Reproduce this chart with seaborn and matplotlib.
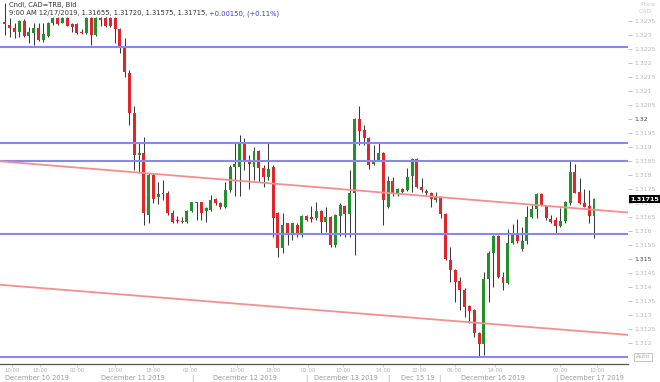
import numpy as np
import matplotlib
matplotlib.use("Agg")
import matplotlib.pyplot as plt
import seaborn as sns
from matplotlib.transforms import blended_transform_factory

# ---------------- data (CAD=TRB hourly candles) ----------------
opens = [
    1.32349, 1.32337, 1.32325, 1.32313, 1.32352, 1.32298, 1.32307, 1.32327, 1.32283, 1.32298,
    1.32343, 1.32361, 1.32345, 1.32361, 1.32340, 1.32340, 1.32313, 1.32307, 1.32361, 1.32301,
    1.32361, 1.32361, 1.32361, 1.32361, 1.32321, 1.32259, 1.32166, 1.32021, 1.31873, 1.31881,
    1.31658, 1.31801, 1.31722, 1.31733, 1.31738, 1.31667, 1.31637, 1.31636, 1.31634, 1.31674,
    1.31700, 1.31704, 1.31674, 1.31676, 1.31714, 1.31702, 1.31686, 1.31748, 1.31831, 1.31831,
    1.31920, 1.31852, 1.31831, 1.31888, 1.31825, 1.31795, 1.31831, 1.31664, 1.31539, 1.31629,
    1.31587, 1.31623, 1.31590, 1.31655, 1.31648, 1.31646, 1.31673, 1.31634, 1.31652, 1.31551,
    1.31655, 1.31690, 1.31662, 1.31736, 1.32000, 1.31962, 1.31932, 1.31840, 1.31855, 1.31881,
    1.31686, 1.31781, 1.31736, 1.31751, 1.31748, 1.31798, 1.31858, 1.31759, 1.31744, 1.31738,
    1.31712, 1.31724, 1.31662, 1.31498, 1.31462, 1.31422, 1.31390, 1.31333, 1.31319, 1.31236,
    1.31198, 1.31429, 1.31521, 1.31583, 1.31438, 1.31414, 1.31557, 1.31587, 1.31536, 1.31564,
    1.31652, 1.31679, 1.31733, 1.31690, 1.31644, 1.31640, 1.31619, 1.31638, 1.31700, 1.31813,
    1.31741, 1.31700, 1.31690, 1.31655]

highs = [
    1.32415, 1.32361, 1.32344, 1.32355, 1.32357, 1.32331, 1.32343, 1.32343, 1.32343, 1.32349,
    1.32367, 1.32364, 1.32364, 1.32364, 1.32343, 1.32343, 1.32321, 1.32364, 1.32364, 1.32364,
    1.32364, 1.32364, 1.32364, 1.32364, 1.32325, 1.32289, 1.32176, 1.32048, 1.31914, 1.31938,
    1.31807, 1.31805, 1.31777, 1.31783, 1.31745, 1.31676, 1.31655, 1.31652, 1.31676, 1.31706,
    1.31706, 1.31706, 1.31688, 1.31730, 1.31718, 1.31706, 1.31777, 1.31837, 1.31920, 1.31944,
    1.31932, 1.31873, 1.31902, 1.31890, 1.31837, 1.31920, 1.31837, 1.31670, 1.31664, 1.31631,
    1.31631, 1.31631, 1.31658, 1.31658, 1.31690, 1.31706, 1.31676, 1.31688, 1.31655, 1.31662,
    1.31700, 1.31694, 1.31819, 1.32004, 1.32048, 1.31980, 1.31938, 1.31908, 1.31920, 1.31884,
    1.31798, 1.31795, 1.31754, 1.31754, 1.31825, 1.31861, 1.31861, 1.31790, 1.31751, 1.31741,
    1.31741, 1.31726, 1.31664, 1.31544, 1.31464, 1.31438, 1.31397, 1.31337, 1.31322, 1.31240,
    1.31456, 1.31530, 1.31587, 1.31587, 1.31456, 1.31607, 1.31626, 1.31643, 1.31617, 1.31690,
    1.31694, 1.31738, 1.31736, 1.31694, 1.31658, 1.31652, 1.31682, 1.31709, 1.31855, 1.31840,
    1.31789, 1.31750, 1.31748, 1.31720]

lows = [
    1.32301, 1.32295, 1.32290, 1.32295, 1.32293, 1.32271, 1.32265, 1.32281, 1.32277, 1.32295,
    1.32337, 1.32337, 1.32343, 1.32333, 1.32313, 1.32305, 1.32304, 1.32305, 1.32265, 1.32298,
    1.32333, 1.32329, 1.32331, 1.32271, 1.32236, 1.32152, 1.31980, 1.31819, 1.31807, 1.31623,
    1.31631, 1.31701, 1.31698, 1.31712, 1.31658, 1.31631, 1.31631, 1.31631, 1.31631, 1.31670,
    1.31640, 1.31640, 1.31634, 1.31674, 1.31694, 1.31679, 1.31682, 1.31741, 1.31726, 1.31726,
    1.31819, 1.31750, 1.31783, 1.31777, 1.31757, 1.31783, 1.31581, 1.31509, 1.31521, 1.31551,
    1.31569, 1.31581, 1.31581, 1.31638, 1.31634, 1.31640, 1.31593, 1.31599, 1.31545, 1.31543,
    1.31583, 1.31581, 1.31581, 1.31515, 1.31908, 1.31908, 1.31821, 1.31837, 1.31852, 1.31623,
    1.31682, 1.31726, 1.31726, 1.31738, 1.31745, 1.31741, 1.31754, 1.31741, 1.31730, 1.31686,
    1.31706, 1.31648, 1.31498, 1.31419, 1.31349, 1.31319, 1.31295, 1.31274, 1.31224, 1.31151,
    1.31158, 1.31349, 1.31402, 1.31433, 1.31390, 1.31412, 1.31555, 1.31559, 1.31531, 1.31555,
    1.31646, 1.31646, 1.31690, 1.31640, 1.31629, 1.31593, 1.31617, 1.31631, 1.31694, 1.31736,
    1.31698, 1.31686, 1.31629, 1.31575]

closes = [
    1.32339, 1.32325, 1.32313, 1.32352, 1.32298, 1.32311, 1.32327, 1.32283, 1.32305, 1.32345,
    1.32361, 1.32340, 1.32361, 1.32334, 1.32331, 1.32307, 1.32309, 1.32361, 1.32301, 1.32361,
    1.32355, 1.32333, 1.32333, 1.32321, 1.32254, 1.32170, 1.32024, 1.31873, 1.31881, 1.31664,
    1.31801, 1.31714, 1.31733, 1.31738, 1.31664, 1.31634, 1.31635, 1.31634, 1.31674, 1.31704,
    1.31704, 1.31664, 1.31682, 1.31712, 1.31702, 1.31686, 1.31748, 1.31831, 1.31840, 1.31920,
    1.31855, 1.31840, 1.31888, 1.31827, 1.31795, 1.31823, 1.31646, 1.31539, 1.31623, 1.31590,
    1.31629, 1.31590, 1.31655, 1.31640, 1.31645, 1.31674, 1.31634, 1.31652, 1.31551, 1.31658,
    1.31694, 1.31662, 1.31736, 1.32000, 1.31959, 1.31932, 1.31837, 1.31855, 1.31881, 1.31712,
    1.31781, 1.31736, 1.31751, 1.31741, 1.31795, 1.31858, 1.31759, 1.31748, 1.31737, 1.31714,
    1.31724, 1.31662, 1.31500, 1.31462, 1.31420, 1.31390, 1.31331, 1.31317, 1.31236, 1.31198,
    1.31429, 1.31524, 1.31583, 1.31438, 1.31414, 1.31559, 1.31587, 1.31567, 1.31564, 1.31652,
    1.31679, 1.31733, 1.31694, 1.31646, 1.31634, 1.31619, 1.31638, 1.31706, 1.31813, 1.31738,
    1.31700, 1.31688, 1.31655, 1.31715]

level_prices = [1.32257, 1.31915, 1.31852, 1.31589, 1.31150]
trend_x = [-1.04, 130.1]
upper_trend = [1.31850, 1.31667]
lower_trend = [1.31409, 1.31230]

price_labels = ["1.312", "1.3125", "1.313", "1.3135", "1.314", "1.3145", "1.315",
                "1.3155", "1.316", "1.3165", "1.317", "1.3175", "1.318", "1.3185",
                "1.319", "1.3195", "1.32", "1.3205", "1.321", "1.3215", "1.322",
                "1.3225", "1.323", "1.3235"]
major_price_labels = ["1.32", "1.315"]

time_pos = [1.5, 7.3, 15.0, 23.0, 30.9, 38.6, 48.4, 56.0, 63.3, 70.6, 78.9, 86.6,
            93.9, 102.3, 115.9, 123.6]
time_labels = ["10:00", "18:00", "02:00", "10:00", "18:00", "02:00", "10:00", "18:00",
               "02:00", "10:00", "14:00", "22:00", "06:00", "14:00", "02:00", "10:00"]
date_pos = [6.7, 26.7, 50.1, 71.2, 86.2, 101.9, 122.5]
date_labels = ["December 10 2019", "December 11 2019", "December 12 2019",
               "December 13 2019", "Dec 15 19", "December 16 2019", "December 17 2019"]
sep_pos = [39.2, 63.0, 80.0, 90.8, 115.2]

header_1 = "Cndl, CAD=TRB, Bid"
header_2 = "9:00 AM 12/17/2019, 1.31655, 1.31720, 1.31575, 1.31715,"
header_change = " +0.00150, (+0.11%)"
last_price = "1.31715"

# ---------------- styling ----------------
sns.set_theme(style="white")
plt.rcParams['font.family'] = ['DejaVu Sans']

W, H = 660, 382
fig = plt.figure(figsize=(W / 100, H / 100), dpi=100)
ax = fig.add_axes([0, 18 / H, 628 / W, 364 / H])

o = np.array(opens); h = np.array(highs); l = np.array(lows); c = np.array(closes)
x = np.arange(len(o))
up = c >= o
green, red = "#23902b", "#e0262a"
cols = np.where(up, green, red)

ax.vlines(x, l, h, color="#3a3a3a", linewidth=0.75, zorder=2)
bottoms = np.minimum(o, c)
heights = np.maximum(np.abs(c - o), 0.000045)
ax.bar(x, heights, bottom=bottoms, width=0.62, color=cols, linewidth=0, zorder=3)

for lv in level_prices:
    ax.axhline(lv, color="#8888ee", linewidth=1.5, zorder=4)
sns.lineplot(x=trend_x, y=upper_trend, ax=ax, color="#f29090", linewidth=1.3, zorder=4)
sns.lineplot(x=trend_x, y=lower_trend, ax=ax, color="#f29090", linewidth=1.3, zorder=4)

ax.set_xlim(-1.04, 130.1)
ax.set_ylim(1.31126, 1.324261)

# right price axis
ax.yaxis.tick_right()
vals = [float(s) for s in price_labels]
ax.set_yticks(vals)
ax.set_yticklabels(price_labels)
ax.tick_params(axis="y", which="major", labelsize=4.4, colors="#b8b8b8", length=3,
               width=0.6, pad=1.5, direction="out", right=True, left=False)
for t in ax.get_yticklabels():
    if t.get_text() in major_price_labels:
        t.set_color("#444444")
ax.set_ylabel("")

for s in ["top", "left", "right"]:
    ax.spines[s].set_visible(False)
ax.spines["bottom"].set_color("#555555")
ax.spines["bottom"].set_linewidth(0.9)

# bottom time axis
ax.set_xticks(time_pos)
ax.set_xticklabels([])
ax.tick_params(axis="x", length=2, width=0.5, colors="#c0c0c0", bottom=True)
trans = blended_transform_factory(ax.transData, fig.transFigure)
for p, lab in zip(time_pos, time_labels):
    ax.text(p, 1 - 370 / H, lab, transform=trans, ha="center", va="center",
            fontsize=3.8, color="#b0b0b0", clip_on=False)
for p, lab in zip(date_pos, date_labels):
    ax.text(p, 1 - 378.5 / H, lab, transform=trans, ha="center", va="center",
            fontsize=4.8, color="#9a9a9a", clip_on=False)
for p in sep_pos:
    ax.text(p, 1 - 378 / H, "|", transform=trans, ha="center", va="center",
            fontsize=5, color="#aaaaaa", clip_on=False)

# header text
t1 = fig.text(9 / W, 1 - 5 / H, header_1, fontsize=4.85, color="#333333", va="center", ha="left")
t2 = fig.text(9 / W, 1 - 13.5 / H, header_2, fontsize=4.85, color="#333333", va="center", ha="left")
ax.annotate(header_change, xy=(1, 0.5), xycoords=t2, va="center", ha="left",
            fontsize=4.85, color="#3a3ad0", annotation_clip=False)

# price axis caption
fig.text(648 / W, 1 - 4 / H, "Price", fontsize=4.4, color="#c8c8c8", ha="center", va="center")
fig.text(645 / W, 1 - 11.5 / H, "CAD", fontsize=4.4, color="#c8c8c8", ha="center", va="center")

# last price box
ytr = blended_transform_factory(ax.transAxes, ax.transData)
ax.text(1.004, float(last_price), last_price, transform=ytr, ha="left", va="center",
        fontsize=4.6, color="white", fontweight="bold", clip_on=False, zorder=6,
        bbox=dict(facecolor="black", edgecolor="none", pad=1.2))

# Auto box
fig.text(643 / W, 1 - 357 / H, "Auto", fontsize=4.4, color="#aaaaaa", ha="center", va="center",
         bbox=dict(facecolor="white", edgecolor="#bdbdbd", linewidth=0.6, pad=1.0))

fig.savefig("out.png", dpi=100)
